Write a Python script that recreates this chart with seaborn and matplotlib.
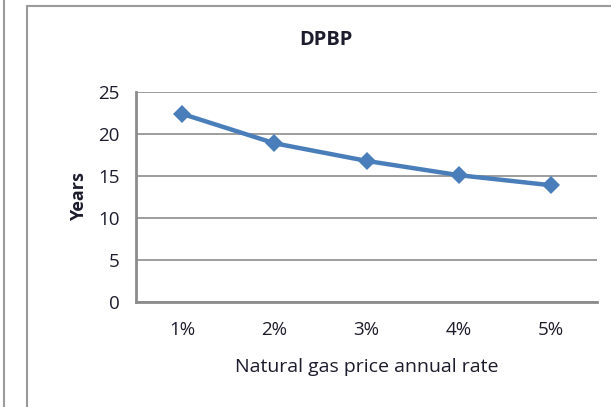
import numpy as np
import pandas as pd
import seaborn as sns
import matplotlib.pyplot as plt
from matplotlib.lines import Line2D

# data
rates = ["1%", "2%", "3%", "4%", "5%"]
years = [22.4, 18.9, 16.8, 15.1, 13.9]
y_ticks = [0, 5, 10, 15, 20, 25]

df = pd.DataFrame({"rate": rates, "years": years})

sns.set_style("white")
plt.rcParams['font.family'] = ['Open Sans', 'DejaVu Sans']

fig = plt.figure(figsize=(6.11, 4.07), dpi=100)
ax = fig.add_axes([136/611, 1 - 302/407, (597-136)/611, (302-92)/407])

grid_col = "#8c8c8c"
txt_col = "#1c1c2c"
sns.lineplot(data=df, x="rate", y="years", ax=ax, color="#4a7ebb", linewidth=3.2,
             marker="D", markersize=9.5, markeredgewidth=0, sort=False)

ax.set_xlim(-0.5, 4.5)
ax.set_ylim(0, 25)
ax.set_yticks(y_ticks)
ax.yaxis.grid(True, color=grid_col, linewidth=1.2)
ax.set_axisbelow(True)
ax.set_xticks(range(len(rates)))
ax.set_xticklabels(rates)
ax.set_xticks(np.arange(-0.5, 5, 1), minor=True)
ax.tick_params(axis="x", which="major", length=0, pad=14, labelsize=13.5, colors=txt_col)
ax.tick_params(axis="x", which="minor", length=5, width=1.2, color=grid_col, direction="out")
ax.tick_params(axis="y", length=5, width=1.2, color=grid_col, labelsize=13.5, pad=7,
               labelcolor=txt_col)

for side in ["top", "right"]:
    ax.spines[side].set_visible(False)
for side in ["left", "bottom"]:
    ax.spines[side].set_color(grid_col)
    ax.spines[side].set_linewidth(2)

ax.set_xlabel("Natural gas price annual rate", fontsize=14, labelpad=13, color=txt_col)
ax.set_ylabel("Years", fontsize=13, fontweight="bold", labelpad=7, color=txt_col)
fig.text(326/611, 1 - 40/407, "DPBP", ha="center", va="center", fontsize=14.5,
         fontweight="bold", color=txt_col)

# chart frames
fig.add_artist(Line2D([4/611, 4/611], [0, 1], color="#9a9a9a", linewidth=1.5))
fig.add_artist(Line2D([27/611, 27/611], [0, 1 - 6/407], color="#9a9a9a", linewidth=1.5))
fig.add_artist(Line2D([27/611, 1], [1 - 6/407, 1 - 6/407], color="#9a9a9a", linewidth=1.5))

fig.savefig("out.png", dpi=100)
